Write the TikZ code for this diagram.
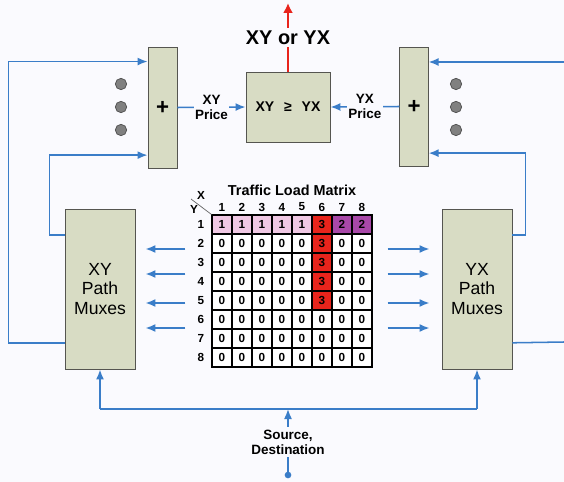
\documentclass[tikz,border=0pt]{standalone}
\usepackage{fontspec}
\setmainfont{Liberation Sans}
\usetikzlibrary{positioning,arrows.meta}
\definecolor{bg}{RGB}{250,250,254}
\definecolor{boxfill}{RGB}{216,220,196}
\definecolor{boxline}{RGB}{85,85,80}
\definecolor{wire}{RGB}{58,125,200}
\definecolor{hot}{RGB}{232,36,28}
\definecolor{pinkcell}{RGB}{240,200,228}
\definecolor{purplecell}{RGB}{168,72,168}

\begin{document}
\begin{tikzpicture}[
    x=0.03cm, y=-0.03cm,
    box/.style={draw=boxline, fill=boxfill, line width=0.8pt, inner sep=0pt,
                align=center, text=black},
    btxt/.style={font=\bfseries\fontsize{11.5}{13}\selectfont, align=center,
                 fill=bg, inner sep=1pt, text=black},
    arr/.style={-{Latex[length=0.3cm,width=0.24cm]}, wire, line width=1.3pt},
    wireline/.style={wire, line width=1.3pt},
    cell/.style={draw=black, line width=0.9pt, minimum width=0.6cm,
                 minimum height=0.57cm, inner sep=0pt,
                 font=\bfseries\fontsize{10}{11}\selectfont},
    num/.style={font=\bfseries\fontsize{10}{11}\selectfont, inner sep=0pt},
    dot/.style={circle, draw=black!70, fill=black!50, line width=0.6pt,
                minimum size=0.34cm, inner sep=0pt},
    v0/.style={fill=white},
    v1/.style={fill=pinkcell},
    v2/.style={fill=purplecell},
    v3/.style={fill=hot},
  ]
  \fill[bg] (0,0) rectangle (564,482);
  \useasboundingbox (0,0) rectangle (564,482);

  % Top row: adders and comparator
  \node[box, minimum width=0.87cm, minimum height=3.63cm,
        font=\bfseries\fontsize{19}{19}\selectfont] (plusL) at (162.5,107.5) {+};
  \node[box, minimum width=0.85cm, minimum height=3.57cm,
        font=\bfseries\fontsize{19}{19}\selectfont] (plusR) at (414,106.5) {+};
  \node[box, minimum width=2.52cm, minimum height=2.1cm,
        font=\bfseries\fontsize{12}{14}\selectfont] (cmp) at (288,107)
        {XY\hspace{0.7em}≥\hspace{0.7em}YX};
  \coordinate (res) at (288,3);

  % Dots between inputs
  \node[dot] (dl1) at (121,84) {};
  \node[dot] (dl2) at (121,107) {};
  \node[dot] (dl3) at (121,130) {};
  \node[dot] (dr1) at (456,84) {};
  \node[dot] (dr2) at (456,107) {};
  \node[dot] (dr3) at (456,130) {};

  % Path muxes
  \node[box, minimum width=2.1cm, minimum height=4.8cm,
        font=\fontsize{15}{17}\selectfont] (xym) at (100,289) {XY\\Path\\Muxes};
  \node[box, minimum width=2.1cm, minimum height=4.8cm,
        font=\fontsize{15}{17}\selectfont] (yxm) at (477,289) {YX\\Path\\Muxes};

  % Traffic load matrix
  \foreach \r/\row in {1/{1,1,1,1,1,3,2,2}, 2/{0,0,0,0,0,3,0,0},
                       3/{0,0,0,0,0,3,0,0}, 4/{0,0,0,0,0,3,0,0},
                       5/{0,0,0,0,0,3,0,0}, 6/{0,0,0,0,0,0,0,0},
                       7/{0,0,0,0,0,0,0,0}, 8/{0,0,0,0,0,0,0,0}} {
    \foreach \v [count=\c] in \row {
      \node[cell, v\v] (m-\r-\c) at ({212+20*(\c-0.5)},{215+19*(\r-0.5)}) {\v};
    }
    \node[num] (rl-\r) at (201,{215+19*(\r-0.5)}) {\r};
  }
  \foreach \c in {1,...,8} {
    \node[num] (cl-\c) at ({212+20*(\c-0.5)},207) {\c};
  }
  \node[num, font=\bfseries\fontsize{12.3}{14}\selectfont] (title) at (292,190)
       {Traffic Load Matrix};
  \node[num] (xlab) at (201,195) {X};
  \node[num] (ylab) at (194,209) {Y};
  \draw[black!60, line width=0.6pt] (191,199) -- (m-1-1.north west);

  % Comparator output
  \draw[-{Latex[length=0.3cm,width=0.3cm]}, hot, line width=2pt] (cmp.north)
    -- node[fill=bg, inner sep=2pt, text=black,
            font=\bfseries\fontsize{17}{18}\selectfont] (out) {XY or YX} (res);

  % Prices into comparator
  \draw[arr] (plusL.east) -- node[btxt] (xyp) {XY\\Price} (cmp.west);
  \draw[arr] (plusR.west) -- node[btxt] (yxp) {YX\\Price} (cmp.east);

  % Feedback from muxes to adders
  \draw[arr] ([yshift=0.8cm]xym.south west) -- ++(-56,0)
    |- ([yshift=-0.45cm]plusL.north west);
  \draw[arr] ([yshift=-0.8cm]xym.north west) -- ++(-15,0)
    |- ([yshift=0.4cm]plusL.south west);
  \draw[arr] ([yshift=-0.8cm]yxm.north east) -- ++(13,0)
    |- ([yshift=0.4cm]plusR.south east);
  \coordinate (rin) at (564,62);
  \coordinate (rout) at (564,342);
  \draw[arr] (rin) -- (rin -| plusR.east);
  \draw[wireline] ([yshift=0.8cm]yxm.south east) -- (rout);

  % Matrix rows out to muxes
  \foreach \y in {249,274,303,328} {
    \draw[arr] ([xshift=1.5cm]xym.east |- 0,\y) -- ([xshift=0.3cm]xym.east |- 0,\y);
    \draw[arr] ([xshift=-1.62cm]yxm.west |- 0,\y) -- ([xshift=-0.36cm]yxm.west |- 0,\y);
  }

  % Source / destination bus
  \coordinate (src) at (288,475);
  \coordinate (busL) at (xym.south |- 0,409);
  \coordinate (busR) at (yxm.south |- 0,409);
  \fill[wire] (src) circle (0.1cm);
  \draw[wireline] (busL) -- (busR);
  \draw[arr] (busL) -- (xym.south);
  \draw[arr] (busR) -- (yxm.south);
  \draw[arr] (src) -- node[btxt, inner sep=2pt] (srcl) {Source,\\Destination}
    (src |- busL);

\end{tikzpicture}
\end{document}
